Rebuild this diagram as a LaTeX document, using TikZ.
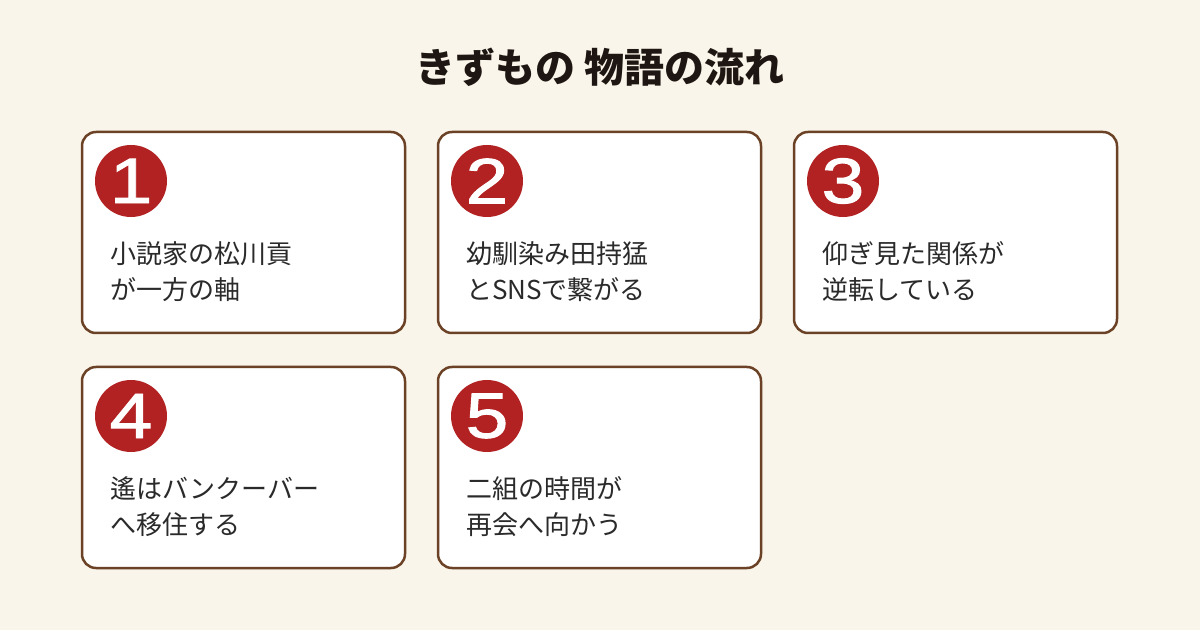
\documentclass[tikz,border=0pt]{standalone}
\usepackage{fontspec}
\newfontfamily\jpfont{Noto Sans CJK JP}
\newfontfamily\digitfont[FakeStretch=1.2,FakeBold=1.5]{Liberation Sans}
\usetikzlibrary{positioning}
\definecolor{cream}{HTML}{FAF5EA}
\definecolor{brownline}{HTML}{6B4226}
\definecolor{stepred}{HTML}{B22222}
\definecolor{inkdark}{HTML}{1E1612}
\definecolor{bodyink}{HTML}{2A2A2A}

\begin{document}
\begin{tikzpicture}[
    card/.style={draw=brownline,line width=2.5pt,fill=white,rounded corners=14pt,minimum width=323pt,minimum height=201pt,outer sep=0pt,inner sep=0pt},
    badge/.style={circle,fill=stepred,text=white,minimum size=72pt,inner sep=0pt,font=\digitfont\fontsize{64}{64}\selectfont},
    story/.style={anchor=north west,align=left,inner sep=0pt,text=bodyink,font=\jpfont\fontsize{26}{36}\selectfont},
    heading/.style={text=inkdark,font=\jpfont\bfseries\fontsize{40}{44}\selectfont}
    ]
\fill[cream] (0,0) rectangle (1200pt,630pt);
\useasboundingbox (0,0) rectangle (1200pt,630pt);

\node[heading] (title) at (600pt,562.5pt) {きずもの 物語の流れ};

\node[card] (card1) at (243.5pt,397.5pt) {};
\node[card,right=33pt of card1] (card2) {};
\node[card,right=33pt of card2] (card3) {};
\node[card,below=34pt of card1] (card4) {};
\node[card,right=33pt of card4] (card5) {};

\node[badge] (num1) at ([xshift=49pt,yshift=-49pt]card1.north west) {1};
\node[badge] (num2) at ([xshift=49pt,yshift=-49pt]card2.north west) {2};
\node[badge] (num3) at ([xshift=49pt,yshift=-49pt]card3.north west) {3};
\node[badge] (num4) at ([xshift=49pt,yshift=-49pt]card4.north west) {4};
\node[badge] (num5) at ([xshift=49pt,yshift=-49pt]card5.north west) {5};

\node[story] (text1) at ([xshift=28pt,yshift=-109pt]card1.north west) {小説家の松川貢\\が一方の軸};
\node[story] (text2) at ([xshift=28pt,yshift=-109pt]card2.north west) {幼馴染み田持猛\\とSNSで繋がる};
\node[story] (text3) at ([xshift=28pt,yshift=-109pt]card3.north west) {仰ぎ見た関係が\\逆転している};
\node[story] (text4) at ([xshift=28pt,yshift=-109pt]card4.north west) {遙はバンクーバー\\へ移住する};
\node[story] (text5) at ([xshift=28pt,yshift=-109pt]card5.north west) {二組の時間が\\再会へ向かう};

\end{tikzpicture}
\end{document}
